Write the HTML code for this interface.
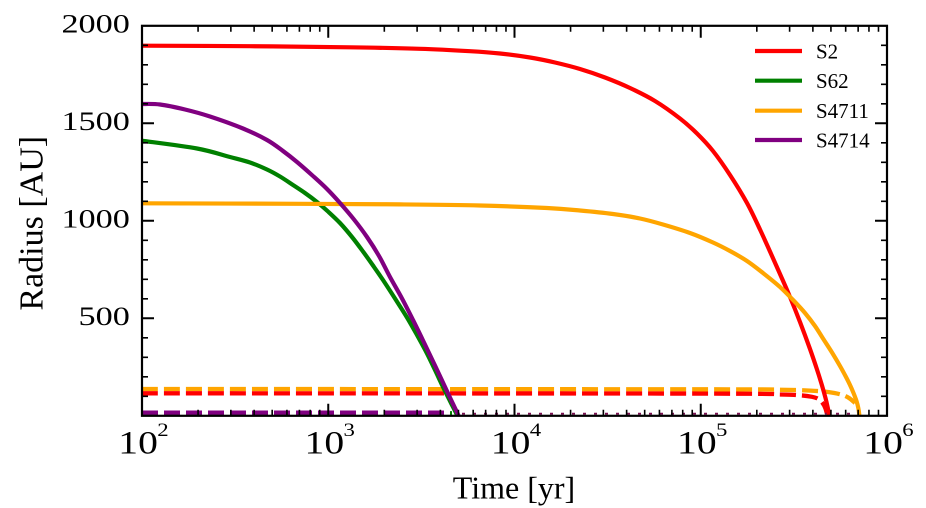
<!DOCTYPE html>
<html>
<head>
<meta charset="utf-8">
<style>
  html, body { margin: 0; padding: 0; background: #ffffff; }
  svg { display: block; }
  text { font-family: "Liberation Serif", "Times New Roman", serif; fill: #000; }
</style>
</head>
<body>
<svg id="chart" width="926" height="508" viewBox="0 0 926 508" xmlns="http://www.w3.org/2000/svg">
  <rect x="0" y="0" width="926" height="508" fill="#ffffff"/>
  <defs>
    <clipPath id="ax">
      <rect x="142" y="25.8" width="745" height="390"/>
    </clipPath>
  </defs>

  <g clip-path="url(#ax)" fill="none" stroke-linejoin="round">
    <!-- dashed lines -->
    <polyline class="sm" stroke="#ffa500" stroke-width="4.3" stroke-dasharray="16 6"
      points="142,389 700,389.3 780,389.8 810,390.6 828,392 841,394.5 849,398 855,403"/>
    <polyline class="sm" stroke="#ff0000" stroke-width="4.3" stroke-dasharray="16 6"
      points="142,393.3 700,393.6 780,394.5 800,395.3 812,396.8 818.5,399 822.5,403 825.3,408 827,414"/>
    <polyline stroke="#008000" stroke-width="4.3" stroke-dasharray="16 6"
      points="142,413.3 452,413.3"/>
    <polyline stroke="#800080" stroke-width="4.3" stroke-dasharray="16 6"
      points="142,412.7 450,412.7"/>
    <polyline stroke="#7a1050" stroke-width="2" stroke-dasharray="3 8"
      points="462,413.8 862,413.8"/>

    <!-- S2 -->
    <polyline class="sm" stroke="#ff0000" stroke-width="4.2"
      points="142,45.7 250,46.2 350,47.3 420,48.8 470,51.2 500,53.5 530,57.5 555,62.5 580,69 605,77.5 630,88 655,101 680,118.5 697,133.5 713,151 730,175 747,203 760,229.5 770,251.5 780,274 790,297 800,322 810,349 817,369.5 822,385.5 825.5,398 827.5,406.5 828.7,413 829.2,420"/>
    <!-- S62 -->
    <polyline class="sm" stroke="#008000" stroke-width="4.2"
      points="142,140.7 197,148.5 230,157 250,162.5 267,169.5 280,176.5 293,185 305,193 317,202 328,211.5 340,223 352,237 363,251.5 373,265.5 383,280 395,298.5 407,317.5 417,335 427,353.5 435,370 443,387 450,401 457,415 458.5,420"/>
    <!-- S4711 -->
    <polyline class="sm" stroke="#ffa500" stroke-width="4.2"
      points="142,203.3 300,203.8 400,204.4 480,205.5 547,208 580,210.5 613,214 640,218.5 663,224.5 690,233 713,242.5 730,251 747,261 763,273 780,287 795,302 805,313 815,326 823,338.5 832,352.5 840,366 846,377 850,385 853.5,393 856.5,401 858.3,408 859.2,414 859.5,420"/>
    <!-- S4714 -->
    <polyline class="sm" stroke="#800080" stroke-width="4.2"
      points="142,104 160,104.5 185,109.5 210,116.5 243,128.5 267,140 283,151 297,162 313,176 327,189 340,203 354,219.5 367,237 379,256 390,277 402,298.5 413,320 424,342.5 435,365.5 446,389 452,401.8 458,414.5 459.5,420"/>
  </g>

  <!-- ticks -->
  <g stroke="#000" fill="none">
    <path stroke-width="2" d="M328.25,415.8 V403.8 M514.5,415.8 V403.8 M700.75,415.8 V403.8
      M328.25,25.8 V37.8 M514.5,25.8 V37.8 M700.75,25.8 V37.8"/>
    <path stroke-width="1.6" d="
      M198.07,415.8 v-6 M230.86,415.8 v-6 M254.13,415.8 v-6 M272.18,415.8 v-6 M286.93,415.8 v-6 M299.40,415.8 v-6 M310.20,415.8 v-6 M319.73,415.8 v-6
      M384.32,415.8 v-6 M417.11,415.8 v-6 M440.38,415.8 v-6 M458.43,415.8 v-6 M473.18,415.8 v-6 M485.65,415.8 v-6 M496.45,415.8 v-6 M505.98,415.8 v-6
      M570.57,415.8 v-6 M603.36,415.8 v-6 M626.63,415.8 v-6 M644.68,415.8 v-6 M659.43,415.8 v-6 M671.90,415.8 v-6 M682.70,415.8 v-6 M692.23,415.8 v-6
      M756.82,415.8 v-6 M789.61,415.8 v-6 M812.88,415.8 v-6 M830.93,415.8 v-6 M845.68,415.8 v-6 M858.15,415.8 v-6 M868.95,415.8 v-6 M878.48,415.8 v-6
      M198.07,25.8 v6 M230.86,25.8 v6 M254.13,25.8 v6 M272.18,25.8 v6 M286.93,25.8 v6 M299.40,25.8 v6 M310.20,25.8 v6 M319.73,25.8 v6
      M384.32,25.8 v6 M417.11,25.8 v6 M440.38,25.8 v6 M458.43,25.8 v6 M473.18,25.8 v6 M485.65,25.8 v6 M496.45,25.8 v6 M505.98,25.8 v6
      M570.57,25.8 v6 M603.36,25.8 v6 M626.63,25.8 v6 M644.68,25.8 v6 M659.43,25.8 v6 M671.90,25.8 v6 M682.70,25.8 v6 M692.23,25.8 v6
      M756.82,25.8 v6 M789.61,25.8 v6 M812.88,25.8 v6 M830.93,25.8 v6 M845.68,25.8 v6 M858.15,25.8 v6 M868.95,25.8 v6 M878.48,25.8 v6"/>
    <path stroke-width="2" d="M142,318.3 h12 M142,220.8 h12 M142,123.3 h12
      M887,318.3 h-12 M887,220.8 h-12 M887,123.3 h-12"/>
    <path stroke-width="1.6" d="
      M142,396.3 h6 M142,376.8 h6 M142,357.3 h6 M142,337.8 h6
      M142,298.8 h6 M142,279.3 h6 M142,259.8 h6 M142,240.3 h6
      M142,201.3 h6 M142,181.8 h6 M142,162.3 h6 M142,142.8 h6
      M142,103.8 h6 M142,84.3 h6 M142,64.8 h6 M142,45.3 h6
      M887,396.3 h-6 M887,376.8 h-6 M887,357.3 h-6 M887,337.8 h-6
      M887,298.8 h-6 M887,279.3 h-6 M887,259.8 h-6 M887,240.3 h-6
      M887,201.3 h-6 M887,181.8 h-6 M887,162.3 h-6 M887,142.8 h-6
      M887,103.8 h-6 M887,84.3 h-6 M887,64.8 h-6 M887,45.3 h-6"/>
    <rect x="142" y="25.8" width="745" height="390" stroke-width="2.2"/>
  </g>

  <!-- y tick labels -->
  <g font-size="26.5" text-anchor="end">
    <text transform="translate(129.8,32.3) scale(1.29,1)">2000</text>
    <text transform="translate(129.8,129.8) scale(1.29,1)">1500</text>
    <text transform="translate(129.8,227.3) scale(1.29,1)">1000</text>
    <text transform="translate(129.8,324.8) scale(1.29,1)">500</text>
  </g>

  <!-- x tick labels -->
  <g>
    <text font-size="33" transform="translate(118.3,453.5) scale(1.2,1)">10</text>
    <text font-size="19" transform="translate(157.3,436) scale(1.2,1)">2</text>
    <text font-size="33" transform="translate(304.55,453.5) scale(1.2,1)">10</text>
    <text font-size="19" transform="translate(343.55,436) scale(1.2,1)">3</text>
    <text font-size="33" transform="translate(490.8,453.5) scale(1.2,1)">10</text>
    <text font-size="19" transform="translate(529.8,436) scale(1.2,1)">4</text>
    <text font-size="33" transform="translate(677.05,453.5) scale(1.2,1)">10</text>
    <text font-size="19" transform="translate(716.05,436) scale(1.2,1)">5</text>
    <text font-size="33" transform="translate(863.3,453.5) scale(1.2,1)">10</text>
    <text font-size="19" transform="translate(902.3,436) scale(1.2,1)">6</text>
  </g>

  <!-- axis labels -->
  <text font-size="32" x="452.8" y="498.3">Time [yr]</text>
  <text font-size="34" transform="translate(42.3,310.6) rotate(-90)">Radius [AU]</text>

  <!-- legend -->
  <g stroke-width="4.2" fill="none">
    <line x1="755" y1="51" x2="802" y2="51" stroke="#ff0000"/>
    <line x1="755" y1="80.7" x2="802" y2="80.7" stroke="#008000"/>
    <line x1="755" y1="110.7" x2="802" y2="110.7" stroke="#ffa500"/>
    <line x1="755" y1="140" x2="802" y2="140" stroke="#800080"/>
  </g>
  <g font-size="21">
    <text x="816" y="58.5">S2</text>
    <text x="816" y="88.2">S62</text>
    <text x="816" y="118.2">S4711</text>
    <text x="816" y="147.5">S4714</text>
  </g>
</svg>
<script>
(function(){
  var NS = 'http://www.w3.org/2000/svg';
  var pls = document.querySelectorAll('polyline.sm');
  for (var k = 0; k < pls.length; k++) {
    var pl = pls[k];
    var raw = pl.getAttribute('points').trim().split(/\s+/);
    var pts = [];
    for (var j = 0; j < raw.length; j++) {
      var a = raw[j].split(',');
      pts.push([parseFloat(a[0]), parseFloat(a[1])]);
    }
    var d = 'M' + pts[0][0] + ',' + pts[0][1];
    for (var i = 0; i < pts.length - 1; i++) {
      var p0 = pts[i - 1] || pts[i], p1 = pts[i], p2 = pts[i + 1], p3 = pts[i + 2] || pts[i + 1];
      var c1x = p1[0] + (p2[0] - p0[0]) / 6, c1y = p1[1] + (p2[1] - p0[1]) / 6;
      var c2x = p2[0] - (p3[0] - p1[0]) / 6, c2y = p2[1] - (p3[1] - p1[1]) / 6;
      d += ' C' + c1x.toFixed(2) + ',' + c1y.toFixed(2) + ' ' + c2x.toFixed(2) + ',' + c2y.toFixed(2) + ' ' + p2[0] + ',' + p2[1];
    }
    var path = document.createElementNS(NS, 'path');
    for (var m = 0; m < pl.attributes.length; m++) {
      var at = pl.attributes[m];
      if (at.name !== 'points' && at.name !== 'class') path.setAttribute(at.name, at.value);
    }
    path.setAttribute('d', d);
    path.setAttribute('fill', 'none');
    pl.parentNode.replaceChild(path, pl);
  }
})();
</script>
</body>
</html>
